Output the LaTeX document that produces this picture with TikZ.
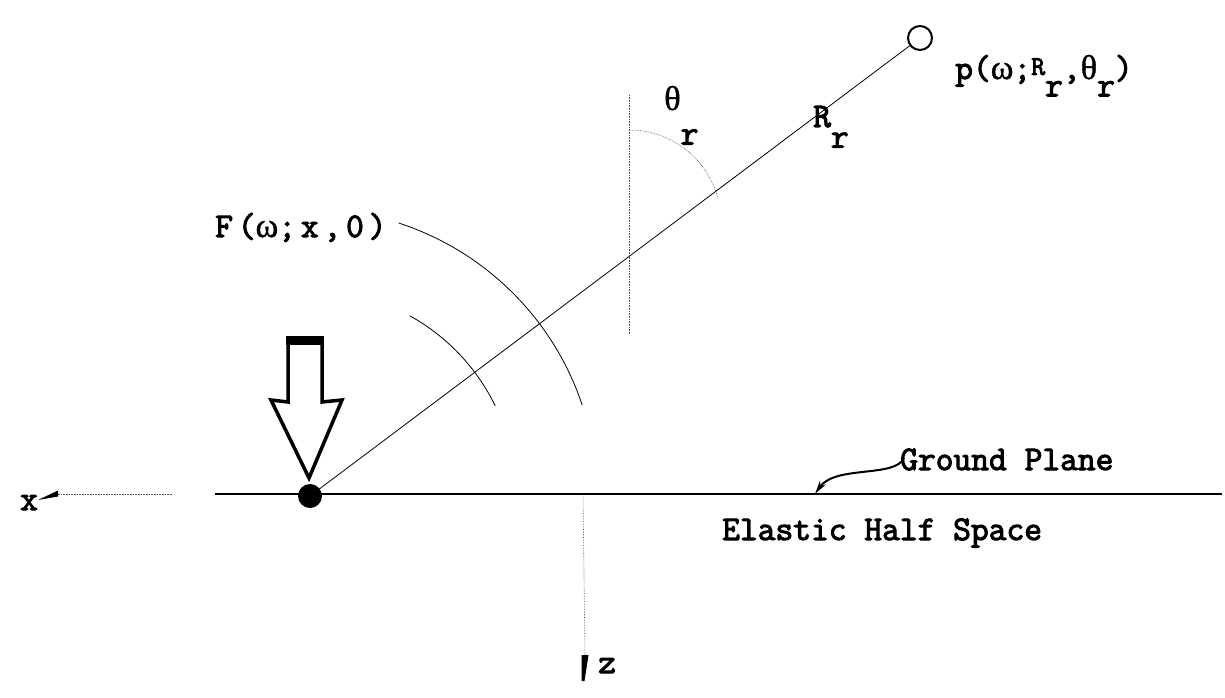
\documentclass[tikz,border=0pt]{standalone}
\usepackage{fontspec}
\newfontfamily\typew[FakeBold=3]{Latin Modern Mono}
\newfontfamily\grk[FakeBold=1]{Liberation Serif}
\usetikzlibrary{arrows.meta}
\newcommand\subr[2][0.6em]{\raisebox{-#1}{#2}}
\newcommand\om{{\grk ω}}
\newcommand\tht{{\grk θ}}

\begin{document}
\begin{tikzpicture}[x=1pt, y=1pt, font=\typew\fontsize{34.5}{38}\selectfont,
    lbl/.style={inner sep=0pt, anchor=base west},
    guide/.style={densely dotted, line width=0.6pt, black!70},
    wave/.style={line width=0.8pt}]

  \useasboundingbox (0,-698) rectangle (1225,0);

  % --- Ground ---
  \coordinate (gl) at (215,-494);
  \coordinate (gr) at (1222,-494);
  \coordinate (gnd) at (815,-494);
  \draw[line width=2.5pt] (gl) -- (gr);

  % --- Source and receiver ---
  \coordinate (src) at (310,-496);
  \fill (src) circle[radius=12];
  \node[circle, draw, line width=2pt, minimum size=24pt, inner sep=0pt] (rcv) at (920,-38) {};
  \draw[line width=0.8pt] (src) -- (rcv);

  % --- Force arrow ---
  \draw[line width=3.5pt, line join=miter] (288,-340) -- (322,-340) -- (322,-402) -- (342,-400)
    -- (309,-478) -- (271,-400) -- (288,-402) -- cycle;
  \fill (286,-336) rectangle (324,-345);

  % --- Wave fronts ---
  \foreach \r/\a/\b in {206/61/26, 287/72/18.5}
    \draw[wave] ([shift={(\a:\r)}]src) arc[start angle=\a, end angle=\b, radius=\r];

  % --- Angle ---
  \coordinate (vt) at (629,-95);
  \coordinate (vb) at (629,-335);
  \coordinate (thc) at (629,-222);
  \draw[guide] (vt) -- (vb);
  \draw[guide] ([shift={(90:92)}]thc) arc[start angle=90, end angle=15, radius=92];

  % --- Axes ---
  \coordinate (xo) at (172,-494);
  \coordinate (xt) at (58,-494);
  \coordinate (xe) at (38,-500);
  \draw[guide] (xo) -- (xt);
  \fill ([yshift=3.5pt]xt) -- ([yshift=-2.5pt]xt) -- (xe) -- cycle;
  \node[lbl] (xlbl) at (20,-510) {x};
  \coordinate (zo) at (583,-494);
  \coordinate (zt) at (585,-655);
  \coordinate (ze) at (583,-681);
  \draw[guide] (zo) -- (zt);
  \fill ([xshift=-3.5pt]zt) -- ([xshift=3.5pt]zt) -- ([xshift=1.5pt]ze) -- ([xshift=-1.5pt]ze) -- cycle;
  \node[lbl] (zlbl) at (598,-673) {z};

  % --- Labels ---
  \node[lbl] (flbl) at (215,-237) {\addfontfeature{LetterSpace=14}F(\om;x,0)};
  \node[lbl] (thlbl) at (664,-110) {\tht\subr[1em]{r}};
  \node[lbl] (rlbl) at (813,-127) {R\subr[0.6em]{r}};
  \node[lbl] (plbl) at (955,-79)
    {p(\om;\raisebox{0.12em}{\fontsize{27}{30}\selectfont R}\subr[0.5em]{r},\tht\subr[0.5em]{r})};
  \node[lbl] (gp) at (900,-470) {Ground Plane};
  \node[lbl] (hs) at (722,-540) {Elastic Half Space};
  \draw[line width=2pt, -{Stealth[length=14pt, width=7pt]}] ([shift={(4,12)}]gp.base west)
    .. controls (895,-478) and (835,-465) .. (gnd);

\end{tikzpicture}
\end{document}
